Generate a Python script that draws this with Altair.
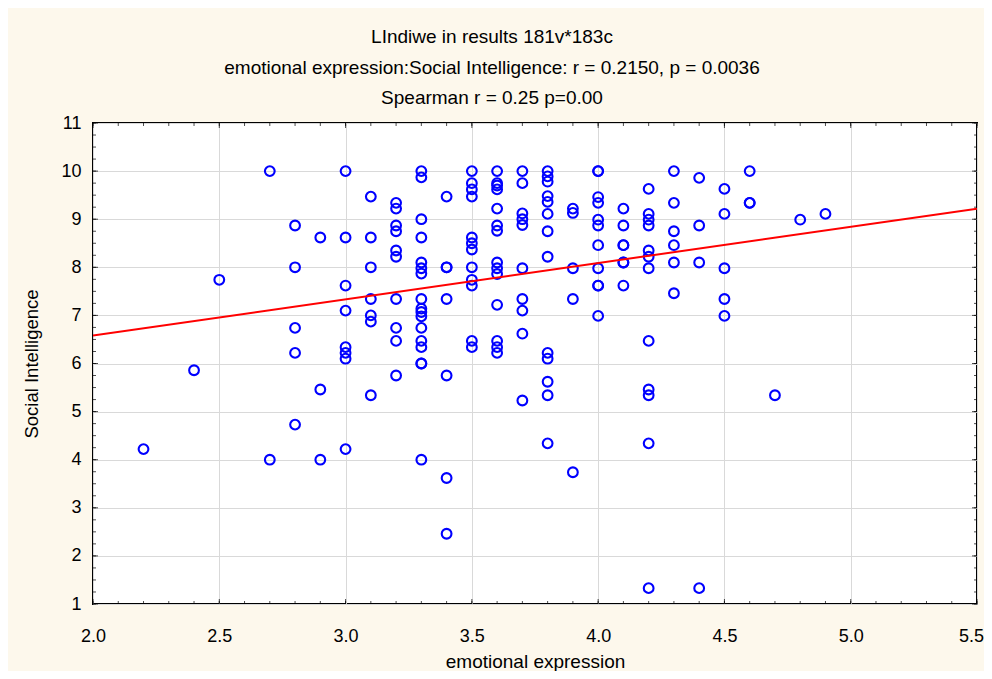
import altair as alt
import pandas as pd
import numpy as np

title_line = "LIndiwe in results 181v*183c"
subtitle_lines = [
    "emotional expression:Social Intelligence:   r = 0.2150, p = 0.0036",
    "Spearman r = 0.25 p=0.00",
]
x_title = "emotional expression"
y_title = "Social Intelligence"

# emotional expression levels and the Social Intelligence values observed at each
x_levels = [2.2, 2.4, 2.5, 2.7, 2.8, 2.9, 3.0, 3.1, 3.2, 3.3, 3.4, 3.5, 3.6,
            3.7, 3.8, 3.9, 4.0, 4.1, 4.2, 4.3, 4.4, 4.5, 4.6, 4.7, 4.8, 4.9]
y_by_level = [
    [4.22],
    [5.86],
    [7.74],
    [10.0, 4.0],
    [8.87, 8.0, 6.74, 6.22, 4.73],
    [8.62, 5.46, 4.0],
    [10.0, 8.62, 7.62, 7.10, 6.34, 6.22, 6.10, 4.22],
    [9.47, 8.62, 8.0, 7.34, 7.0, 6.87, 5.34],
    [9.34, 9.22, 8.87, 8.75, 8.35, 8.22, 7.34, 6.74, 6.47, 5.75],
    [10.0, 9.87, 9.0, 8.62, 8.10, 7.98, 7.87, 7.34, 7.14, 7.07, 6.98, 6.74,
     6.47, 6.34, 6.0, 6.0, 4.0],
    [9.47, 8.0, 8.0, 7.34, 5.75, 3.62, 2.46],
    [10.0, 9.75, 9.62, 9.47, 8.62, 8.5, 8.37, 8.0, 7.74, 7.62, 6.47, 6.34],
    [10.0, 9.75, 9.70, 9.62, 9.22, 8.87, 8.76, 8.10, 7.98, 7.86, 7.22, 6.47,
     6.34, 6.22],
    [10.0, 9.75, 9.12, 9.0, 8.88, 7.98, 7.34, 7.10, 6.62, 5.23],
    [10.0, 9.89, 9.78, 9.48, 9.36, 9.11, 8.75, 8.22, 6.22, 6.10, 5.62, 5.34, 4.34],
    [9.22, 9.13, 7.98, 7.34, 3.74],
    [10.0, 10.0, 9.46, 9.34, 8.99, 8.87, 8.46, 7.98, 7.62, 7.62, 6.99],
    [9.22, 8.87, 8.46, 8.46, 8.10, 8.10, 7.62],
    [9.63, 9.11, 8.99, 8.87, 8.35, 8.22, 7.98, 6.47, 5.46, 5.34, 4.34, 1.33],
    [10.0, 9.34, 8.75, 8.46, 8.10, 7.46],
    [9.86, 8.87, 8.10, 1.33],
    [9.63, 9.11, 7.98, 7.34, 6.99],
    [10.0, 9.34, 9.34],
    [5.34],
    [8.99],
    [9.11],
]

fit_x = [2.0, 5.5]
fit_y = [6.58, 9.22]

x_ticks = [2.0, 2.5, 3.0, 3.5, 4.0, 4.5, 5.0, 5.5]
y_ticks = [1, 2, 3, 4, 5, 6, 7, 8, 9, 10, 11]
x_minor = [round(v, 1) for v in np.arange(2.0, 5.5001, 0.1)]
y_minor = [round(v, 2) for v in np.arange(1.0, 11.0001, 0.25)]

expr, social = [], []
for xv, ys in zip(x_levels, y_by_level):
    for yv in ys:
        expr.append(xv)
        social.append(yv)
df = pd.DataFrame({"expr": expr, "social": social})
fit_df = pd.DataFrame({"expr": fit_x, "social": fit_y})

W, H = 884, 481
FONT = "Liberation Sans"
MAJ, MIN = 5, 3

xscale = alt.Scale(domain=[2.0, 5.5], nice=False, zero=False)
yscale = alt.Scale(domain=[1, 11], nice=False, zero=False)

X = alt.X("expr:Q", scale=xscale, title=x_title,
          axis=alt.Axis(values=x_ticks, format=".1f", ticks=False, domain=False,
                        grid=True, gridColor="#D9D9D9", gridWidth=1,
                        labelPadding=23, titlePadding=7, labelFontSize=18,
                        titleFontSize=19, labelFont=FONT, titleFont=FONT,
                        labelColor="black", titleColor="black",
                        titleFontWeight="normal", labelFlush=False,
                        labelOffset={"condition": {"test": "datum.value >= 5.5", "value": -6},
                                     "value": 0}))
Y = alt.Y("social:Q", scale=yscale, title=y_title,
          axis=alt.Axis(values=y_ticks, format="d", ticks=False, domain=False,
                        grid=True, gridColor="#D9D9D9", gridWidth=1,
                        labelPadding=12, titlePadding=19, labelFontSize=18,
                        titleFontSize=18.5, labelFont=FONT, titleFont=FONT,
                        labelColor="black", titleColor="black",
                        titleFontWeight="normal", labelFlush=False))

points = alt.Chart(df).mark_point(
    shape="circle", filled=False, color="#0000FF", size=95, strokeWidth=2.1, opacity=1
).encode(x=X, y=Y)

line = alt.Chart(fit_df).mark_line(color="#FF0000", strokeWidth=2, clip=True).encode(
    x=alt.X("expr:Q", scale=xscale), y=alt.Y("social:Q", scale=yscale))

def xt(vals, length, top):
    d = pd.DataFrame({"expr": vals})
    yv = length / 2 if top else H - length / 2
    return alt.Chart(d).mark_tick(color="black", size=length, thickness=1).encode(
        x=alt.X("expr:Q", scale=xscale), y=alt.value(yv))

def yt(vals, length, right):
    d = pd.DataFrame({"social": vals})
    xv = W - length / 2 if right else length / 2
    return alt.Chart(d).mark_tick(color="black", size=length, thickness=1).encode(
        y=alt.Y("social:Q", scale=yscale), x=alt.value(xv))

ticks = [
    xt(x_minor, MIN, False), xt(x_minor, MIN, True),
    xt(x_ticks, MAJ, False), xt(x_ticks, MAJ, True),
    yt(y_minor, MIN, False), yt(y_minor, MIN, True),
    yt(y_ticks, MAJ, False), yt(y_ticks, MAJ, True),
]

chart = alt.layer(points, line, *ticks).properties(
    width=W, height=H,
    padding={"left": 85, "top": 115, "right": 7, "bottom": 67},
    autosize=alt.AutoSizeParams(type="none"),
    background="#FDF8EC",
    title=alt.TitleParams(
        text=title_line, subtitle=subtitle_lines, anchor="middle", frame="group",
        dx=-43, offset=6, font=FONT, subtitleFont=FONT, fontSize=19,
        subtitleFontSize=19, fontWeight="normal", color="black",
        subtitleColor="black", subtitlePadding=12, subtitleLineHeight=30,
    ),
).configure_view(stroke="black", strokeWidth=2, fill="white")

chart.save("out.html", embed_options={"renderer": "svg", "actions": False})
